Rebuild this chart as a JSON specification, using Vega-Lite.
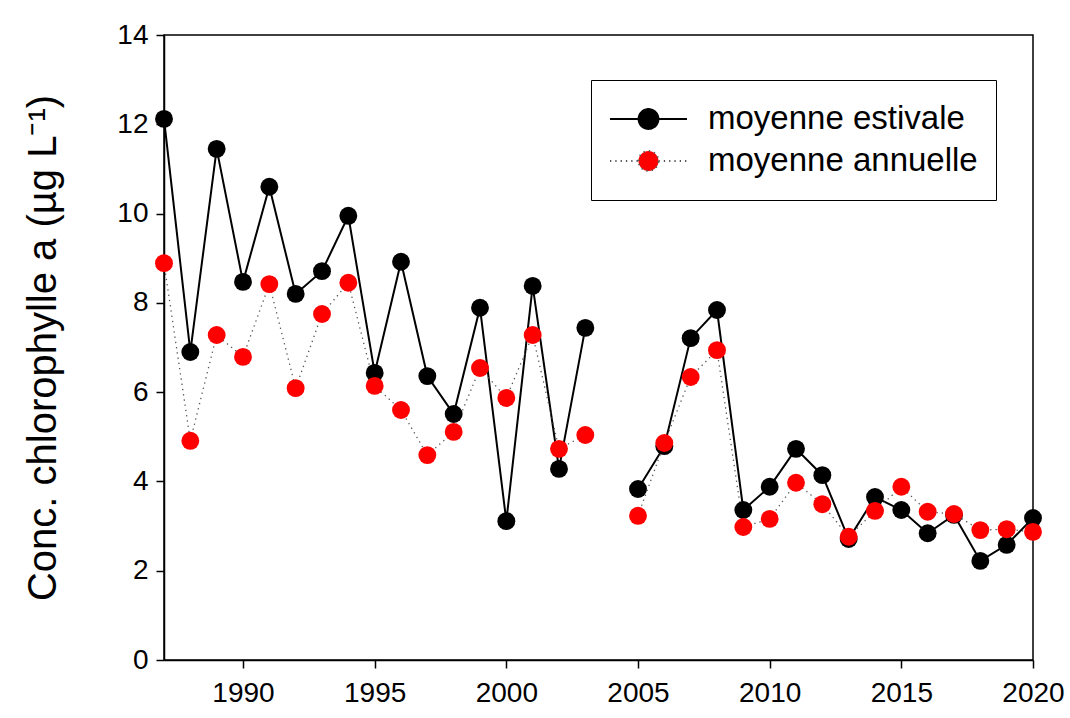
{
  "$schema": "https://vega.github.io/schema/vega-lite/v6.json",
  "width": 869,
  "height": 625,
  "autosize": {"type": "none"},
  "padding": {"left": 164, "top": 35, "right": 37, "bottom": 58},
  "background": "white",
  "config": {
    "font": "Liberation Sans",
    "view": {"stroke": "black", "strokeWidth": 1.5},
    "axis": {"grid": false, "domainColor": "black", "domainWidth": 1.5, "tickColor": "black", "tickWidth": 1.5, "tickSize": 8, "labelColor": "black", "labelFont": "Liberation Sans", "labelFontSize": 28, "titleFont": "Liberation Sans", "titleColor": "black", "titleFontWeight": "normal"}
  },
  "data": {
    "values": [
      {"annee": 1987, "serie": "moyenne estivale", "valeur": 12.12, "periode": 1},
      {"annee": 1988, "serie": "moyenne estivale", "valeur": 6.90, "periode": 1},
      {"annee": 1989, "serie": "moyenne estivale", "valeur": 11.45, "periode": 1},
      {"annee": 1990, "serie": "moyenne estivale", "valeur": 8.47, "periode": 1},
      {"annee": 1991, "serie": "moyenne estivale", "valeur": 10.60, "periode": 1},
      {"annee": 1992, "serie": "moyenne estivale", "valeur": 8.20, "periode": 1},
      {"annee": 1993, "serie": "moyenne estivale", "valeur": 8.71, "periode": 1},
      {"annee": 1994, "serie": "moyenne estivale", "valeur": 9.95, "periode": 1},
      {"annee": 1995, "serie": "moyenne estivale", "valeur": 6.43, "periode": 1},
      {"annee": 1996, "serie": "moyenne estivale", "valeur": 8.92, "periode": 1},
      {"annee": 1997, "serie": "moyenne estivale", "valeur": 6.36, "periode": 1},
      {"annee": 1998, "serie": "moyenne estivale", "valeur": 5.51, "periode": 1},
      {"annee": 1999, "serie": "moyenne estivale", "valeur": 7.89, "periode": 1},
      {"annee": 2000, "serie": "moyenne estivale", "valeur": 3.11, "periode": 1},
      {"annee": 2001, "serie": "moyenne estivale", "valeur": 8.38, "periode": 1},
      {"annee": 2002, "serie": "moyenne estivale", "valeur": 4.28, "periode": 1},
      {"annee": 2003, "serie": "moyenne estivale", "valeur": 7.44, "periode": 1},
      {"annee": 2005, "serie": "moyenne estivale", "valeur": 3.83, "periode": 2},
      {"annee": 2006, "serie": "moyenne estivale", "valeur": 4.79, "periode": 2},
      {"annee": 2007, "serie": "moyenne estivale", "valeur": 7.21, "periode": 2},
      {"annee": 2008, "serie": "moyenne estivale", "valeur": 7.84, "periode": 2},
      {"annee": 2009, "serie": "moyenne estivale", "valeur": 3.36, "periode": 2},
      {"annee": 2010, "serie": "moyenne estivale", "valeur": 3.88, "periode": 2},
      {"annee": 2011, "serie": "moyenne estivale", "valeur": 4.73, "periode": 2},
      {"annee": 2012, "serie": "moyenne estivale", "valeur": 4.14, "periode": 2},
      {"annee": 2013, "serie": "moyenne estivale", "valeur": 2.71, "periode": 2},
      {"annee": 2014, "serie": "moyenne estivale", "valeur": 3.65, "periode": 2},
      {"annee": 2015, "serie": "moyenne estivale", "valeur": 3.36, "periode": 2},
      {"annee": 2016, "serie": "moyenne estivale", "valeur": 2.84, "periode": 2},
      {"annee": 2017, "serie": "moyenne estivale", "valeur": 3.25, "periode": 2},
      {"annee": 2018, "serie": "moyenne estivale", "valeur": 2.22, "periode": 2},
      {"annee": 2019, "serie": "moyenne estivale", "valeur": 2.58, "periode": 2},
      {"annee": 2020, "serie": "moyenne estivale", "valeur": 3.18, "periode": 2},
      {"annee": 1987, "serie": "moyenne annuelle", "valeur": 8.89, "periode": 1},
      {"annee": 1988, "serie": "moyenne annuelle", "valeur": 4.91, "periode": 1},
      {"annee": 1989, "serie": "moyenne annuelle", "valeur": 7.28, "periode": 1},
      {"annee": 1990, "serie": "moyenne annuelle", "valeur": 6.79, "periode": 1},
      {"annee": 1991, "serie": "moyenne annuelle", "valeur": 8.42, "periode": 1},
      {"annee": 1992, "serie": "moyenne annuelle", "valeur": 6.09, "periode": 1},
      {"annee": 1993, "serie": "moyenne annuelle", "valeur": 7.75, "periode": 1},
      {"annee": 1994, "serie": "moyenne annuelle", "valeur": 8.45, "periode": 1},
      {"annee": 1995, "serie": "moyenne annuelle", "valeur": 6.14, "periode": 1},
      {"annee": 1996, "serie": "moyenne annuelle", "valeur": 5.60, "periode": 1},
      {"annee": 1997, "serie": "moyenne annuelle", "valeur": 4.59, "periode": 1},
      {"annee": 1998, "serie": "moyenne annuelle", "valeur": 5.11, "periode": 1},
      {"annee": 1999, "serie": "moyenne annuelle", "valeur": 6.54, "periode": 1},
      {"annee": 2000, "serie": "moyenne annuelle", "valeur": 5.87, "periode": 1},
      {"annee": 2001, "serie": "moyenne annuelle", "valeur": 7.28, "periode": 1},
      {"annee": 2002, "serie": "moyenne annuelle", "valeur": 4.73, "periode": 1},
      {"annee": 2003, "serie": "moyenne annuelle", "valeur": 5.04, "periode": 1},
      {"annee": 2005, "serie": "moyenne annuelle", "valeur": 3.23, "periode": 2},
      {"annee": 2006, "serie": "moyenne annuelle", "valeur": 4.86, "periode": 2},
      {"annee": 2007, "serie": "moyenne annuelle", "valeur": 6.34, "periode": 2},
      {"annee": 2008, "serie": "moyenne annuelle", "valeur": 6.94, "periode": 2},
      {"annee": 2009, "serie": "moyenne annuelle", "valeur": 2.98, "periode": 2},
      {"annee": 2010, "serie": "moyenne annuelle", "valeur": 3.16, "periode": 2},
      {"annee": 2011, "serie": "moyenne annuelle", "valeur": 3.97, "periode": 2},
      {"annee": 2012, "serie": "moyenne annuelle", "valeur": 3.49, "periode": 2},
      {"annee": 2013, "serie": "moyenne annuelle", "valeur": 2.76, "periode": 2},
      {"annee": 2014, "serie": "moyenne annuelle", "valeur": 3.34, "periode": 2},
      {"annee": 2015, "serie": "moyenne annuelle", "valeur": 3.88, "periode": 2},
      {"annee": 2016, "serie": "moyenne annuelle", "valeur": 3.32, "periode": 2},
      {"annee": 2017, "serie": "moyenne annuelle", "valeur": 3.27, "periode": 2},
      {"annee": 2018, "serie": "moyenne annuelle", "valeur": 2.91, "periode": 2},
      {"annee": 2019, "serie": "moyenne annuelle", "valeur": 2.93, "periode": 2},
      {"annee": 2020, "serie": "moyenne annuelle", "valeur": 2.87, "periode": 2}
    ]
  },
  "encoding": {
    "x": {"field": "annee", "type": "quantitative", "scale": {"domain": [1987, 2020], "nice": false, "zero": false},
      "axis": {"title": null, "values": [1990, 1995, 2000, 2005, 2010, 2015, 2020], "format": "d", "labelPadding": 11, "labelFlush": false}},
    "y": {"field": "valeur", "type": "quantitative", "scale": {"domain": [0, 14], "nice": false},
      "axis": {"title": "Conc. chlorophylle a (µg L⁻¹)", "titleFontSize": 40, "titlePadding": 53, "values": [0, 2, 4, 6, 8, 10, 12, 14], "labelPadding": 8}}
  },
  "layer": [
    {
      "transform": [{"filter": "datum.serie === 'moyenne estivale'"}],
      "mark": {"type": "line", "color": "black", "strokeWidth": 2},
      "encoding": {"detail": {"field": "periode"}}
    },
    {
      "transform": [{"filter": "datum.serie === 'moyenne annuelle'"}],
      "mark": {"type": "line", "color": "#555555", "strokeWidth": 1.3, "strokeDash": [1.3, 4]},
      "encoding": {"detail": {"field": "periode"}}
    },
    {
      "mark": {"type": "point", "filled": true, "opacity": 1, "size": 320, "shape": "circle"},
      "encoding": {
        "color": {"field": "serie", "type": "nominal",
          "scale": {"domain": ["moyenne estivale", "moyenne annuelle"], "range": ["black", "red"]},
          "legend": {
            "title": null, "orient": "none", "legendX": 427, "legendY": 45,
            "strokeColor": "black", "padding": 18, "fillColor": "white",
            "symbolType": "M-1,0H-0.26M0.26,0H1M-0.26,0A0.26,0.26,0,1,1,0.26,0A0.26,0.26,0,1,1,-0.26,0Z",
            "symbolSize": 5929, "clipHeight": 42, "rowPadding": 0,
            "symbolStrokeColor": {"expr": "datum.value === 'moyenne annuelle' ? '#555555' : 'black'"},
            "symbolDash": {"expr": "datum.value === 'moyenne annuelle' ? [1.3, 4] : [1, 0]"},
            "symbolStrokeWidth": 1.8,
            "labelFontSize": 33, "labelFont": "Liberation Sans", "labelColor": "black", "labelOffset": 20, "labelLimit": 0
          }
        }
      }
    }
  ]
}
